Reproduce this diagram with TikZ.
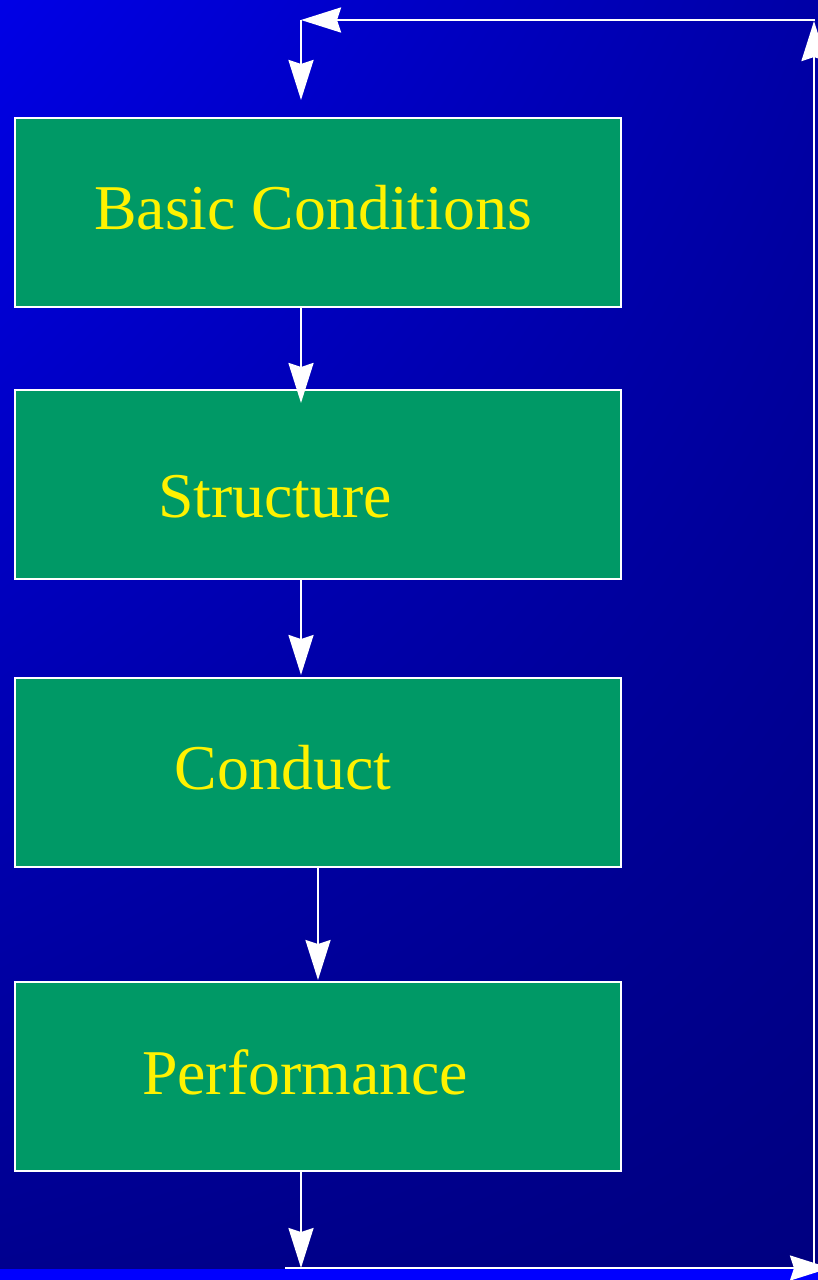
\documentclass[tikz,border=0pt]{standalone}
\usepackage{fontspec}
\setmainfont{Liberation Serif}
\usetikzlibrary{arrows.meta,shadings}
\definecolor{bgUL}{HTML}{0000E6}
\definecolor{bgUR}{HTML}{0000A6}
\definecolor{bgLL}{HTML}{00008E}
\definecolor{bgLR}{HTML}{000080}
\definecolor{boxgreen}{HTML}{009966}
\definecolor{strip}{HTML}{0000FF}
\tikzset{
  stagebox/.style={draw=white, line width=2.5pt, fill=boxgreen, minimum width=606pt, minimum height=189pt, inner sep=0pt},
  stagetext/.style={text=yellow, font=\fontsize{63.8}{70}\selectfont, anchor=base, inner sep=0pt},
  arr/.style={draw=white, line width=2.5pt, -{Stealth[length=40pt, width=25pt, inset=4pt]}}
}
\begin{document}
\begin{tikzpicture}[x=1pt,y=-1pt]
\useasboundingbox (0,0) rectangle (818,1280);
\shade[upper left=bgUL, upper right=bgUR, lower left=bgLL, lower right=bgLR] (0,0) rectangle (818,1280);
\fill[strip] (0,1269) rectangle (818,1280);

\node[stagebox] (b1) at (318,212.5) {};
\node[stagebox] (b2) at (318,484.5) {};
\node[stagebox] (b3) at (318,772.5) {};
\node[stagebox] (b4) at (318,1076.5) {};

\node[stagetext] (t1) at (313,229) {Basic Conditions};
\node[stagetext] (t2) at (275,517) {Structure};
\node[stagetext] (t3) at (283,789) {Conduct};
\node[stagetext] (t4) at (305,1094) {Performance};

\coordinate (p2) at (301,403);
\coordinate (p3) at (301,675);
\coordinate (p4) at (318,980);
\coordinate (p5) at (301,1268);
\coordinate (bl) at (285,1268);
\coordinate (br) at (830,1268);
\coordinate (rb) at (814,1268);
\coordinate (rt) at (814,21);
\coordinate (tr) at (815,20);
\coordinate (tl) at (301,20);
\coordinate (p1) at (301,100);

\draw[arr] (b1.south -| p2) -- (p2);
\draw[arr] (b2.south -| p3) -- (p3);
\draw[arr] (b3.south -| p4) -- (p4);
\draw[arr] (b4.south -| p5) -- (p5);
\draw[arr] (bl) -- (br);
\draw[arr] (rb) -- (rt);
\draw[arr] (tr) -- (tl);
\draw[arr] (tl) -- (p1);
\end{tikzpicture}
\end{document}
